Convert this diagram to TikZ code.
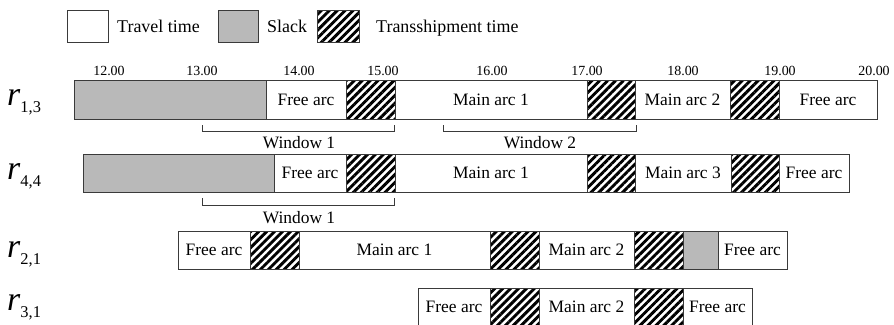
\documentclass[tikz,border=0pt]{standalone}
\usepackage{fontspec}
\setmainfont{Liberation Serif}
\usetikzlibrary{patterns.meta}

\definecolor{slackgray}{HTML}{B9B9B9}
\definecolor{edgegray}{HTML}{3A3A3A}

\tikzset{
  seg/.style={draw=edgegray, line width=0.9bp, inner sep=0pt, outer sep=0pt,
    minimum height=38bp, font=\fontsize{17.5}{20}\selectfont},
  travel/.style={seg, fill=white},
  slack/.style={seg, fill=slackgray},
  trans/.style={seg, preaction={fill=white},
    pattern={Lines[angle=45, distance=5.6bp, line width=2.9bp]}, pattern color=black},
  legtext/.style={inner sep=0pt, anchor=base west, font=\fontsize{18}{20}\selectfont},
  ticklab/.style={inner sep=0pt, anchor=base, font=\fontsize{14}{16}\selectfont},
  winlab/.style={inner sep=0pt, anchor=base, font=\fontsize{17.5}{20}\selectfont},
  routelab/.style={inner sep=0pt, anchor=base west, font=\fontsize{34}{36}\selectfont},
  bracket/.style={draw=edgegray, line width=1bp},
}

% \segbox{name}{left}{right}{centre y}{style}{text}
\newcommand\segbox[6]{%
  \node[#5, minimum width={(#3-#2)*1bp}] (#1) at ({(#2+#3)/2},#4) {#6};}
% route label r with a lowered index
\newcommand\routename[1]{\textit{r}\raisebox{-7bp}{\fontsize{16.5}{16.5}\selectfont #1}}

\begin{document}
\begin{tikzpicture}[x=1bp, y=-1bp]
\useasboundingbox (0,0) rectangle (894,324);

% legend
\node[travel, minimum width=41bp, minimum height=32bp] (legtravel) at (87.5,26) {};
\node[legtext] (legtraveltxt) at (117,32) {Travel time};
\node[slack, minimum width=40bp, minimum height=32bp] (legslack) at (238,26) {};
\node[legtext] (legslacktxt) at (267,32) {Slack};
\node[trans, minimum width=42bp, minimum height=32bp] (legtrans) at (338,26.5) {};
\node[legtext] (legtranstxt) at (376,32) {Transshipment time};

% time scale
\node[ticklab] (t12) at (109,75) {12.00};
\node[ticklab] (t13) at (202,75) {13.00};
\node[ticklab] (t14) at (299,75) {14.00};
\node[ticklab] (t15) at (383,75) {15.00};
\node[ticklab] (t16) at (492,75) {16.00};
\node[ticklab] (t17) at (587,75) {17.00};
\node[ticklab] (t18) at (683,75) {18.00};
\node[ticklab] (t19) at (780,75) {19.00};
\node[ticklab] (t20) at (874,75) {20.00};

% route r_{1,3}
\node[routelab] (lab13) at (7,105) {\routename{1,3}};
\tikzset{seg/.append style={minimum height=39bp}}
\segbox{a1}{74}{266}{99.5}{slack}{}
\segbox{a2}{266}{346}{99.5}{travel}{Free arc}
\segbox{a3}{346}{395}{99.5}{trans}{}
\segbox{a4}{395}{587}{99.5}{travel}{Main arc 1}
\segbox{a5}{587}{635}{99.5}{trans}{}
\segbox{a6}{635}{730}{99.5}{travel}{Main arc 2}
\segbox{a7}{730}{779}{99.5}{trans}{}
\segbox{a8}{779}{877}{99.5}{travel}{Free arc}
\tikzset{seg/.append style={minimum height=38bp}}

% time windows of r_{1,3}
\coordinate (w1a) at (202,125);
\coordinate (w1b) at (394,125);
\draw[bracket] (w1a) -- ++(0,6) -| (w1b);
\node[winlab] (w1lab) at (299,148) {Window 1};
\coordinate (w2a) at (443,125);
\coordinate (w2b) at (636,125);
\draw[bracket] (w2a) -- ++(0,6) -| (w2b);
\node[winlab] (w2lab) at (540,148) {Window 2};

% route r_{4,4}
\node[routelab] (lab44) at (7,179) {\routename{4,4}};
\segbox{b1}{83}{274}{173}{slack}{}
\segbox{b2}{274}{346}{173}{travel}{Free arc}
\segbox{b3}{346}{395}{173}{trans}{}
\segbox{b4}{395}{587}{173}{travel}{Main arc 1}
\segbox{b5}{587}{635}{173}{trans}{}
\segbox{b6}{635}{731}{173}{travel}{Main arc 3}
\segbox{b7}{731}{779}{173}{trans}{}
\segbox{b8}{779}{849}{173}{travel}{Free arc}

% time window of r_{4,4}
\coordinate (w3a) at (202,198);
\coordinate (w3b) at (394,198);
\draw[bracket] (w3a) -- ++(0,7) -| (w3b);
\node[winlab] (w3lab) at (299,223) {Window 1};

% route r_{2,1}
\node[routelab] (lab21) at (7,257) {\routename{2,1}};
\segbox{c1}{178}{250}{250}{travel}{Free arc}
\segbox{c2}{250}{299}{250}{trans}{}
\segbox{c3}{299}{490}{250}{travel}{Main arc 1}
\segbox{c4}{490}{539}{250}{trans}{}
\segbox{c5}{539}{634}{250}{travel}{Main arc 2}
\segbox{c6}{634}{683}{250}{trans}{}
\segbox{c7}{683}{718}{250}{slack}{}
\segbox{c8}{718}{787}{250}{travel}{Free arc}

% route r_{3,1}
\node[routelab] (lab31) at (7,310) {\routename{3,1}};
\segbox{d1}{418}{490}{307}{travel}{Free arc}
\segbox{d2}{490}{539}{307}{trans}{}
\segbox{d3}{539}{634}{307}{travel}{Main arc 2}
\segbox{d4}{634}{683}{307}{trans}{}
\segbox{d5}{683}{752}{307}{travel}{Free arc}
\end{tikzpicture}
\end{document}
